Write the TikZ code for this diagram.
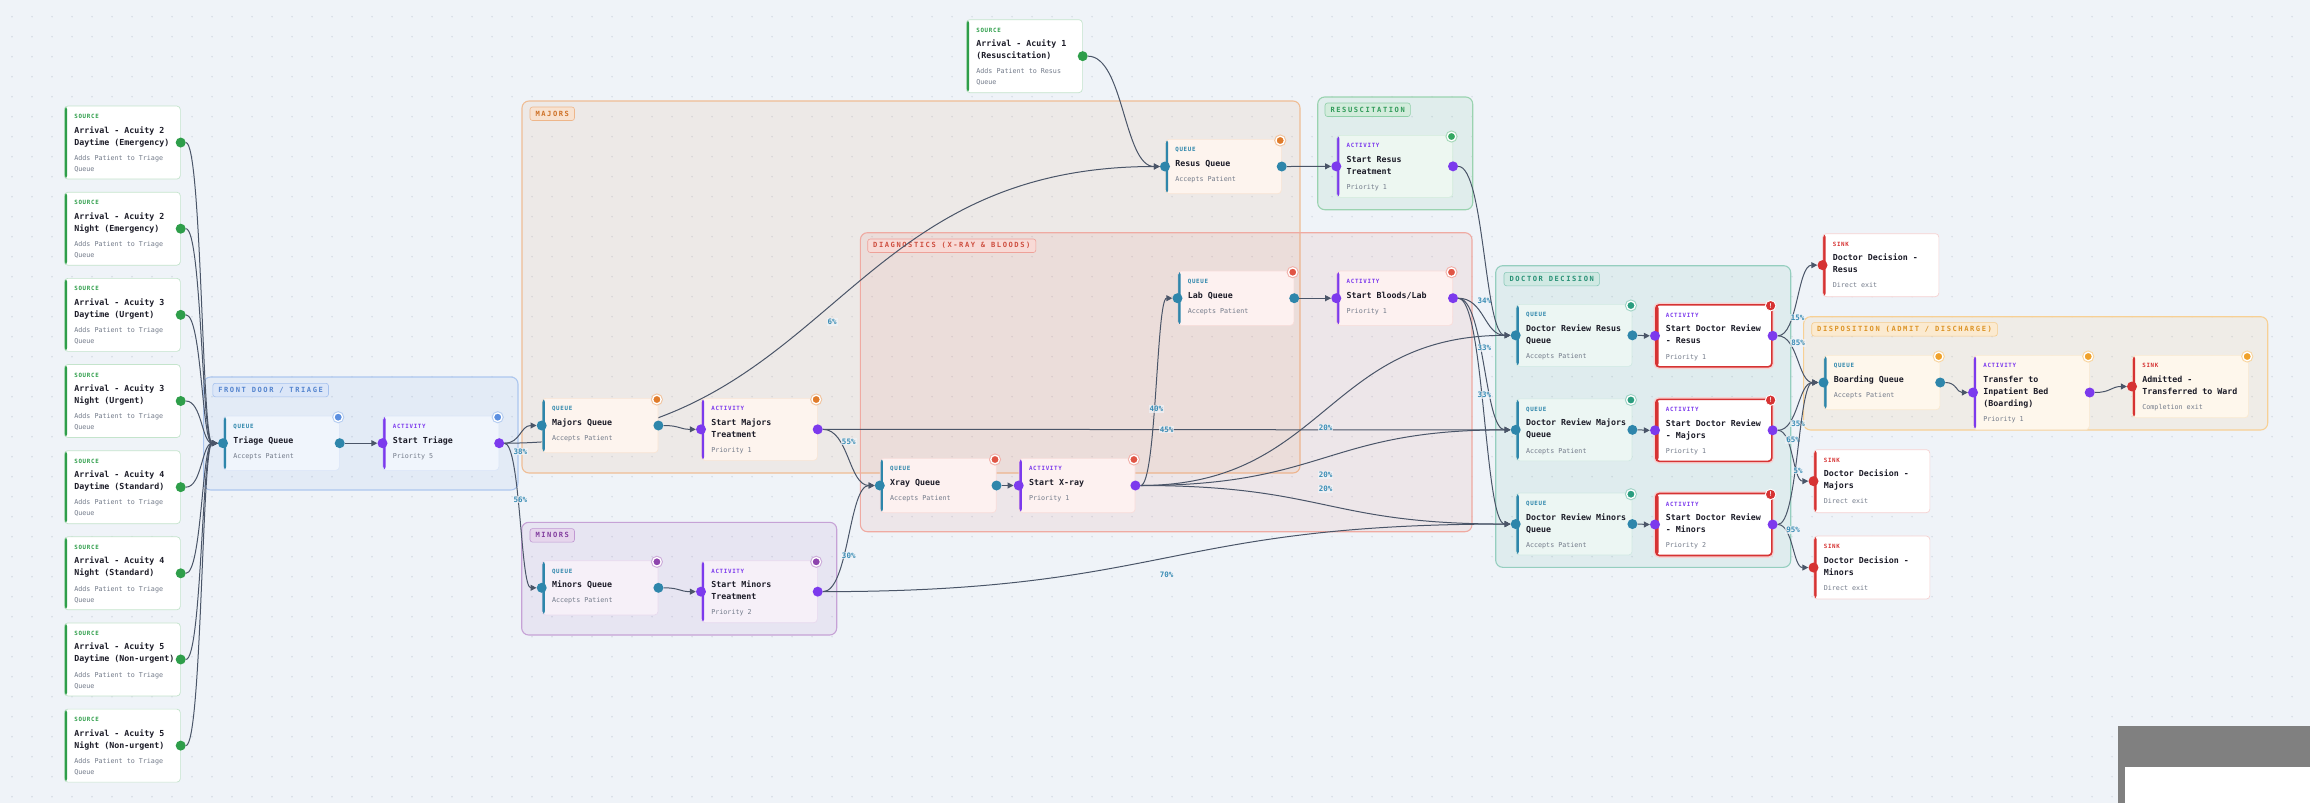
\documentclass[tikz,border=0pt]{standalone}
\usepackage{fontspec}
\setmonofont{DejaVu Sans Mono}
\newfontfamily\tagfam[LetterSpace=12]{DejaVu Sans Mono}
\newfontfamily\grpfam[LetterSpace=22]{DejaVu Sans Mono}
\usetikzlibrary{calc,arrows.meta}

\pgfdeclarelayer{groups}
\pgfdeclarelayer{edges}
\pgfsetlayers{groups,edges,main}

\definecolor{canvas}{HTML}{EFF3F8}
\definecolor{griddot}{HTML}{D3DAE3}
\definecolor{edgec}{HTML}{4A5568}
\definecolor{pctc}{HTML}{3B8DB5}
\definecolor{titlec}{HTML}{1C1C28}
\definecolor{descc}{HTML}{737B8A}
\definecolor{srcc}{HTML}{2E9E4A}
\definecolor{queuec}{HTML}{2E86AB}
\definecolor{actc}{HTML}{7C3AED}
\definecolor{sinkc}{HTML}{D63333}
% group tones
\definecolor{triagec}{HTML}{5B8FE0}
\definecolor{majorsc}{HTML}{E07B2A}
\definecolor{diagc}{HTML}{E05545}
\definecolor{minorsc}{HTML}{8E44AD}
\definecolor{resusc}{HTML}{35A862}
\definecolor{docc}{HTML}{2A9D7F}
\definecolor{dispc}{HTML}{EFA12A}

% card text rows
\newcommand\titlefont{\color{titlec}\ttfamily\bfseries\fontsize{8.3pt}{10pt}\selectfont}
\newcommand\descfont{\color{descc}\ttfamily\fontsize{6.7pt}{8pt}\selectfont}
\newcommand\crow[3]{\hbox to 116pt{\hskip10pt\vrule height #1 depth 0pt width 0pt\relax\smash{#2#3}\hfil}}
\newcommand\rtag[2]{\crow{12.5pt}{\color{#1}\tagfam\bfseries\fontsize{5.8pt}{6pt}\selectfont}{#2}}
\newcommand\rtitle[1]{\crow{14.5pt}{\titlefont}{#1}}
\newcommand\rtitlex[1]{\crow{12pt}{\titlefont}{#1}}
\newcommand\rdesc[1]{\crow{15.3pt}{\descfont}{#1}}
\newcommand\rdescx[1]{\crow{11pt}{\descfont}{#1}}
\newcommand\cardtext[1]{\vtop{\offinterlineskip#1}}

% ports, badges, flows
\newcommand\ports[2]{\node[port=#2] (#1-i) at (#1.west) {}; \node[port=#2] (#1-o) at (#1.east) {};}
\newcommand\badge[2]{\node[badge=#2] (#1-b) at ([xshift=-1.5pt,yshift=-1.5pt]#1.north east) {};}
\newcommand\flow[2]{\draw[flow] let \p1=(#1), \p2=(#2), \n1={0.5*abs(\x2-\x1)} in (#1) .. controls +(\n1,0pt) and +(-\n1,0pt) .. (#2);}
\newcommand\flowpct[4]{\draw[flow] let \p1=(#1), \p2=(#2), \n1={0.5*abs(\x2-\x1)} in (#1) .. controls +(\n1,0pt) and +(-\n1,0pt) .. (#2) node[pct,midway,yshift=#4] {#3};}

\begin{document}
\begin{tikzpicture}[x=1pt,y=-1pt,
    card/.style 2 args={rectangle, draw=#2, fill=#1, line width=0.7pt, rounded corners=3.5pt,
      inner sep=0pt, anchor=north west, text height=12.5pt},
    bar/.style={path picture={\fill[#1] ([xshift=-2pt]path picture bounding box.north west)
      rectangle ([xshift=2.8pt]path picture bounding box.south west);}},
    alertcard/.style={draw=sinkc, line width=1.6pt, preaction={draw=sinkc!22, line width=4.5pt}},
    port/.style={circle, fill=#1, minimum size=10pt, inner sep=0pt},
    badge/.style={circle, fill=#1, draw=white, line width=1.3pt, minimum size=8.5pt, inner sep=0pt,
      preaction={draw=#1!45, line width=3.4pt}},
    alert/.style={circle, fill=sinkc, draw=white, line width=0.9pt, minimum size=10.5pt, inner sep=0pt,
      text=white, font=\sffamily\bfseries\fontsize{7pt}{7pt}\selectfont},
    flow/.style={draw=edgec, line width=1pt, -{Triangle[length=6pt,width=6pt]}},
    pct/.style={text=pctc, font=\ttfamily\bfseries\fontsize{7.5pt}{8pt}\selectfont,
      fill=canvas, fill opacity=0.7, text opacity=1, inner sep=1pt},
    group/.style={draw=#1!50, fill=#1, fill opacity=0.08, rounded corners=7pt, line width=1.1pt},
    grouptag/.style={anchor=north west, draw=#1!55, fill=#1!22, text=#1!92!black, rounded corners=2.5pt,
      inner xsep=5.5pt, inner ysep=0pt, minimum height=13.5pt, line width=0.6pt,
      font=\grpfam\bfseries\fontsize{7.1pt}{7.5pt}\selectfont}]
  \useasboundingbox (0,0) rectangle (2310,803);

  \begin{pgfonlayer}{groups}
    % canvas and dot grid
    \fill[canvas] (0,0) rectangle (2310,803);
    \foreach \gx in {12,32,...,2310}
      \foreach \gy in {16.7,36.7,...,803}
        \fill[griddot] (\gx,\gy) circle (0.8);
    % groups
    \draw[group=majorsc] (522,101) rectangle (1300,473);
    \node[grouptag=majorsc] (g-majors) at (529.7,106.7) {MAJORS};
    \draw[group=diagc] (860.4,232.7) rectangle (1472,531.7);
    \node[grouptag=diagc] (g-diag) at (867.4,238.7) {DIAGNOSTICS (X-RAY \& BLOODS)};
    \draw[group=triagec] (203.6,377) rectangle (518,490);
    \node[grouptag=triagec] (g-triage) at (212.5,383) {FRONT DOOR / TRIAGE};
    \draw[group=minorsc] (521.7,522.3) rectangle (836.7,635);
    \node[grouptag=minorsc] (g-minors) at (529.7,528.3) {MINORS};
    \draw[group=resusc] (1317.7,97) rectangle (1472.7,209.7);
    \node[grouptag=resusc] (g-resus) at (1324.7,102.7) {RESUSCITATION};
    \draw[group=docc] (1495.7,265.7) rectangle (1790.7,567.3);
    \node[grouptag=docc] (g-doc) at (1503.7,272) {DOCTOR DECISION};
    \draw[group=dispc] (1803.6,316.7) rectangle (2267.7,430);
    \node[grouptag=dispc] (g-disp) at (1811.4,322.3) {DISPOSITION (ADMIT / DISCHARGE)};
  \end{pgfonlayer}

  % Sources
  \foreach \i/\ac/\per/\lvl in {1/2/Daytime/Emergency, 2/2/Night/Emergency, 3/3/Daytime/Urgent,
      4/3/Night/Urgent, 5/4/Daytime/Standard, 6/4/Night/Standard, 7/5/Daytime/Non-urgent, 8/5/Night/Non-urgent} {
    \node[card={white}{srcc!28}, bar=srcc, text depth=60.5pt] (s\i) at (64,{105.7+86.15*(\i-1)})
      {\cardtext{\rtag{srcc}{SOURCE}\rtitle{Arrival - Acuity \ac}\rtitlex{\per\ (\lvl)}%
        \rdesc{Adds Patient to Triage}\rdescx{Queue}}};
    \node[port=srcc] (s\i-o) at (s\i.east) {};
  }
  \node[card={white}{srcc!28}, bar=srcc, text depth=60.5pt] (a1) at (966,19.3)
    {\cardtext{\rtag{srcc}{SOURCE}\rtitle{Arrival - Acuity 1}\rtitlex{(Resuscitation)}%
      \rdesc{Adds Patient to Resus}\rdescx{Queue}}};
  \node[port=srcc] (a1-o) at (a1.east) {};

  % Triage
  \node[card={triagec!9}{triagec!22}, bar=queuec, text depth=41.8pt] (tq) at (223,415.7)
    {\cardtext{\rtag{queuec}{QUEUE}\rtitle{Triage Queue}\rdesc{Accepts Patient}}};
  \node[card={triagec!9}{triagec!22}, bar=actc, text depth=41.8pt] (st) at (382.5,415.7)
    {\cardtext{\rtag{actc}{ACTIVITY}\rtitle{Start Triage}\rdesc{Priority 5}}};
  \ports{tq}{queuec} \ports{st}{actc}
  \badge{tq}{triagec} \badge{st}{triagec}

  % Majors
  \node[card={majorsc!8}{majorsc!20}, bar=queuec, text depth=41.8pt] (mq) at (541.7,398)
    {\cardtext{\rtag{queuec}{QUEUE}\rtitle{Majors Queue}\rdesc{Accepts Patient}}};
  \node[card={majorsc!8}{majorsc!20}, bar=actc, text depth=49.5pt] (mt) at (701,398)
    {\cardtext{\rtag{actc}{ACTIVITY}\rtitle{Start Majors}\rtitlex{Treatment}\rdesc{Priority 1}}};
  \node[card={majorsc!8}{majorsc!20}, bar=queuec, text depth=41.8pt] (rq) at (1165,139)
    {\cardtext{\rtag{queuec}{QUEUE}\rtitle{Resus Queue}\rdesc{Accepts Patient}}};
  \ports{mq}{queuec} \ports{mt}{actc} \ports{rq}{queuec}
  \badge{mq}{majorsc} \badge{mt}{majorsc} \badge{rq}{majorsc}

  % Minors
  \node[card={minorsc!8}{minorsc!20}, bar=queuec, text depth=41.8pt] (nq) at (541.7,560.3)
    {\cardtext{\rtag{queuec}{QUEUE}\rtitle{Minors Queue}\rdesc{Accepts Patient}}};
  \node[card={minorsc!8}{minorsc!20}, bar=actc, text depth=49.5pt] (nt) at (701,560.3)
    {\cardtext{\rtag{actc}{ACTIVITY}\rtitle{Start Minors}\rtitlex{Treatment}\rdesc{Priority 2}}};
  \ports{nq}{queuec} \ports{nt}{actc}
  \badge{nq}{minorsc} \badge{nt}{minorsc}

  % Diagnostics
  \node[card={diagc!8}{diagc!20}, bar=queuec, text depth=41.8pt] (xq) at (879.8,458)
    {\cardtext{\rtag{queuec}{QUEUE}\rtitle{Xray Queue}\rdesc{Accepts Patient}}};
  \node[card={diagc!8}{diagc!20}, bar=actc, text depth=41.8pt] (xt) at (1018.7,458)
    {\cardtext{\rtag{actc}{ACTIVITY}\rtitle{Start X-ray}\rdesc{Priority 1}}};
  \node[card={diagc!8}{diagc!20}, bar=queuec, text depth=41.8pt] (lq) at (1177.5,270.7)
    {\cardtext{\rtag{queuec}{QUEUE}\rtitle{Lab Queue}\rdesc{Accepts Patient}}};
  \node[card={diagc!8}{diagc!20}, bar=actc, text depth=41.8pt] (bt) at (1336.3,270.7)
    {\cardtext{\rtag{actc}{ACTIVITY}\rtitle{Start Bloods/Lab}\rdesc{Priority 1}}};
  \ports{xq}{queuec} \ports{xt}{actc} \ports{lq}{queuec} \ports{bt}{actc}
  \badge{xq}{diagc} \badge{xt}{diagc} \badge{lq}{diagc} \badge{bt}{diagc}

  % Resuscitation
  \node[card={resusc!9}{resusc!22}, bar=actc, text depth=49.5pt] (rt) at (1336.3,135)
    {\cardtext{\rtag{actc}{ACTIVITY}\rtitle{Start Resus}\rtitlex{Treatment}\rdesc{Priority 1}}};
  \ports{rt}{actc}
  \badge{rt}{resusc}

  % Doctor decision
  \foreach \nm/\ac/\area/\yy/\pr in {drq/drt/Resus/304/1, dmq/dmt/Majors/398.5/1, dnq/dnt/Minors/492.7/2} {
    \node[card={docc!9}{docc!22}, bar=queuec, text depth=49.5pt] (\nm) at (1515.7,\yy)
      {\cardtext{\rtag{queuec}{QUEUE}\rtitle{Doctor Review \area}\rtitlex{Queue}\rdesc{Accepts Patient}}};
    \node[card={white}{sinkc}, alertcard, bar=sinkc, text depth=49.5pt] (\ac) at (1655,\yy)
      {\cardtext{\rtag{actc}{ACTIVITY}\rtitle{Start Doctor Review}\rtitlex{- \area}\rdesc{Priority \pr}}};
    \ports{\nm}{queuec} \ports{\ac}{actc}
    \badge{\nm}{docc}
    \node[alert] (\ac-b) at ([xshift=-2pt,yshift=-1.7pt]\ac.north east) {!};
  }

  % Exits
  \node[card={white}{sinkc!22}, bar=sinkc, text depth=50.5pt] (ddr) at (1822.5,233.3)
    {\cardtext{\rtag{sinkc}{SINK}\rtitle{Doctor Decision -}\rtitlex{Resus}\rdesc{Direct exit}}};
  \node[card={white}{sinkc!22}, bar=sinkc, text depth=50.5pt] (ddm) at (1813.5,449.3)
    {\cardtext{\rtag{sinkc}{SINK}\rtitle{Doctor Decision -}\rtitlex{Majors}\rdesc{Direct exit}}};
  \node[card={white}{sinkc!22}, bar=sinkc, text depth=50.5pt] (ddn) at (1813.5,535.7)
    {\cardtext{\rtag{sinkc}{SINK}\rtitle{Doctor Decision -}\rtitlex{Minors}\rdesc{Direct exit}}};
  \foreach \nm in {ddr,ddm,ddn} {\node[port=sinkc] (\nm-i) at (\nm.west) {};}

  % Disposition
  \node[card={dispc!9}{dispc!22}, bar=queuec, text depth=41.8pt] (bq) at (1823.5,355)
    {\cardtext{\rtag{queuec}{QUEUE}\rtitle{Boarding Queue}\rdesc{Accepts Patient}}};
  \node[card={dispc!9}{dispc!22}, bar=actc, text depth=61.8pt] (tr) at (1973,355)
    {\cardtext{\rtag{actc}{ACTIVITY}\rtitle{Transfer to}\rtitlex{Inpatient Bed}\rtitlex{(Boarding)}\rdesc{Priority 1}}};
  \node[card={dispc!9}{dispc!22}, bar=sinkc, text depth=49.8pt] (ad) at (2132,355)
    {\cardtext{\rtag{sinkc}{SINK}\rtitle{Admitted -}\rtitlex{Transferred to Ward}\rdesc{Completion exit}}};
  \ports{bq}{queuec} \ports{tr}{actc}
  \node[port=sinkc] (ad-i) at (ad.west) {};
  \badge{bq}{dispc} \badge{tr}{dispc} \badge{ad}{dispc}

  \begin{pgfonlayer}{edges}
    % arrivals
    \foreach \i in {1,...,8} {\flow{s\i-o}{tq-i}}
    \flow{a1-o}{rq-i}
    \flow{tq-o}{st-i}
    % triage split
    \flowpct{st-o}{mq-i}{38\%}{-17pt}
    \flowpct{st-o}{nq-i}{56\%}{16pt}
    \flowpct{st-o}{rq-i}{6\%}{-17pt}
    % majors / minors
    \flow{mq-o}{mt-i}
    \flowpct{mt-o}{xq-i}{55\%}{16pt}
    \flowpct{mt-o}{dmq-i}{45\%}{0pt}
    \flow{nq-o}{nt-i}
    \flowpct{nt-o}{xq-i}{30\%}{-17pt}
    \flowpct{nt-o}{dnq-i}{70\%}{-17pt}
    % diagnostics
    \flow{xq-o}{xt-i}
    \flowpct{xt-o}{lq-i}{40\%}{-17pt}
    \flowpct{xt-o}{drq-i}{20\%}{-17pt}
    \flowpct{xt-o}{dmq-i}{20\%}{-17pt}
    \flowpct{xt-o}{dnq-i}{20\%}{16pt}
    \flow{lq-o}{bt-i}
    \flowpct{bt-o}{drq-i}{34\%}{16pt}
    \flowpct{bt-o}{dmq-i}{33\%}{16pt}
    \flowpct{bt-o}{dnq-i}{33\%}{16pt}
    % resus
    \flow{rq-o}{rt-i}
    \flow{rt-o}{drq-i}
    % doctor decision
    \flow{drq-o}{drt-i}
    \flow{dmq-o}{dmt-i}
    \flow{dnq-o}{dnt-i}
    \flowpct{drt-o}{ddr-i}{15\%}{-17pt}
    \flowpct{drt-o}{bq-i}{85\%}{16pt}
    \flowpct{dmt-o}{bq-i}{35\%}{-17pt}
    \flowpct{dmt-o}{ddm-i}{65\%}{16pt}
    \flowpct{dnt-o}{bq-i}{5\%}{-17pt}
    \flowpct{dnt-o}{ddn-i}{95\%}{16pt}
    % disposition
    \flow{bq-o}{tr-i}
    \flow{tr-o}{ad-i}
  \end{pgfonlayer}

  % corner panel
  \fill[gray] (2118,726) rectangle (2310,803);
  \fill[white] (2125,767) rectangle (2310,803);
\end{tikzpicture}
\end{document}
